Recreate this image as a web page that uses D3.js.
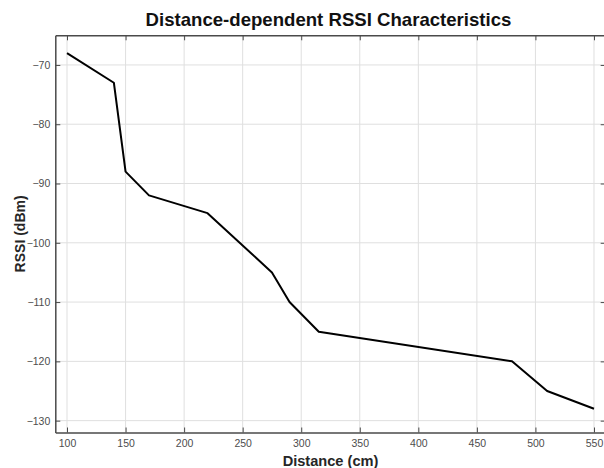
<!DOCTYPE html>
<html>
<head>
<meta charset="utf-8">
<script src="https://cdn.jsdelivr.net/npm/d3@7"></script>
<style>
  body { margin: 0; background: #fff; }
  svg { display: block; font-family: "Liberation Sans", Arial, sans-serif; }
</style>
</head>
<body>
<div id="chart"></div>
<script>
// measured distances and received signal strength
var distance = [100, 140, 150, 170, 220, 275, 290, 315, 480, 510, 550];
var rssi = [-68, -73, -88, -92, -95, -105, -110, -115, -120, -125, -128];
var xTicks = [100, 150, 200, 250, 300, 350, 400, 450, 500, 550];
var yTicks = [-130, -120, -110, -100, -90, -80, -70];

(function() {
var w = 604, h = 468;
var mLeft = 55.3, mRight = 605.7, mTop = 35.3, mBottom = 432.5;

var svg = d3.select('#chart')
            .append('svg')
            .attr('width', w)
            .attr('height', h);

var x = d3.scaleLinear().domain([90, 560]).range([mLeft, mRight]);
var y = d3.scaleLinear().domain([-132, -65]).range([mBottom, mTop]);

//grid
svg.append('g').selectAll('line')
    .data(xTicks)
  .enter().append('line')
    .attr('x1', function(d) { return x(d); })
    .attr('x2', function(d) { return x(d); })
    .attr('y1', mTop).attr('y2', mBottom)
    .attr('stroke', '#dfdfdf').attr('stroke-width', 1);
svg.append('g').selectAll('line')
    .data(yTicks)
  .enter().append('line')
    .attr('y1', function(d) { return y(d); })
    .attr('y2', function(d) { return y(d); })
    .attr('x1', mLeft).attr('x2', mRight)
    .attr('stroke', '#dfdfdf').attr('stroke-width', 1);

//axes, ticks pointing inward like matlab
function styleAxis(g) {
  g.select('.domain').attr('stroke', '#4a4a4a').attr('stroke-width', 1.5);
  g.selectAll('.tick line').attr('stroke', '#4a4a4a');
  g.selectAll('.tick text').attr('fill', '#4d4d4d').attr('font-size', 10.5)
    .attr('font-family', '"Liberation Sans", Arial, sans-serif');
}
svg.append('g')
    .attr('transform', 'translate(0,' + mBottom + ')')
    .call(d3.axisBottom(x).tickValues(xTicks).tickSizeInner(-5).tickSizeOuter(0).tickPadding(7))
    .call(styleAxis);
svg.append('g')
    .attr('transform', 'translate(0,' + mTop + ')')
    .call(d3.axisTop(x).tickValues(xTicks).tickSizeInner(-5).tickSizeOuter(0).tickFormat(''))
    .call(styleAxis);
svg.append('g')
    .attr('transform', 'translate(' + mLeft + ',0)')
    .call(d3.axisLeft(y).tickValues(yTicks).tickSizeInner(-5).tickSizeOuter(0).tickPadding(5))
    .call(styleAxis);
svg.append('g')
    .attr('transform', 'translate(' + mRight + ',0)')
    .call(d3.axisRight(y).tickValues(yTicks).tickSizeInner(-5).tickSizeOuter(0).tickFormat(''))
    .call(styleAxis);

//the curve
var line = d3.line()
    .x(function(d, i) { return x(distance[i]); })
    .y(function(d) { return y(d); });
svg.append('path')
    .datum(rssi)
    .attr('d', line)
    .attr('fill', 'none')
    .attr('stroke', '#000')
    .attr('stroke-width', 2)
    .attr('stroke-linejoin', 'round');

//labels
svg.append('text')
    .attr('x', 328.5).attr('y', 26)
    .attr('text-anchor', 'middle')
    .attr('font-size', 18.6).attr('font-weight', 'bold')
    .attr('fill', '#111')
    .text('Distance-dependent RSSI Characteristics');
svg.append('text')
    .attr('x', 330.5).attr('y', 465.5)
    .attr('text-anchor', 'middle')
    .attr('font-size', 14.6).attr('font-weight', 'bold')
    .attr('fill', '#262626')
    .text('Distance (cm)');
svg.append('text')
    .attr('transform', 'translate(25,' + (mTop + mBottom) / 2 + ') rotate(-90)')
    .attr('text-anchor', 'middle')
    .attr('font-size', 14).attr('font-weight', 'bold')
    .attr('fill', '#262626')
    .text('RSSI (dBm)');
})();
</script>
</body>
</html>
